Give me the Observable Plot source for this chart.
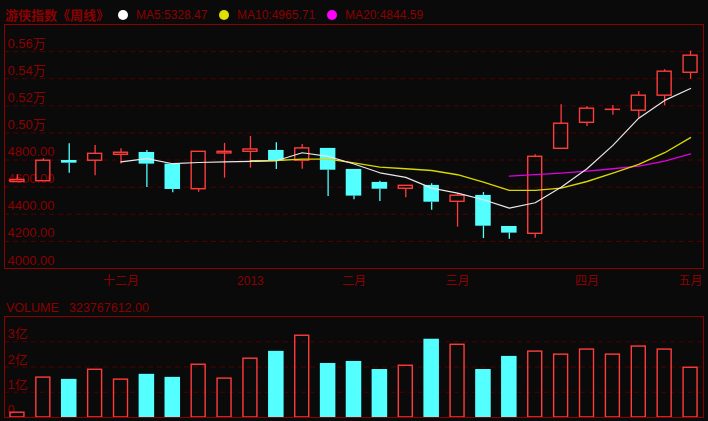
<!DOCTYPE html>
<html><head><meta charset="utf-8">
<script src="https://cdn.jsdelivr.net/npm/d3@7"></script>
<script src="https://cdn.jsdelivr.net/npm/@observablehq/plot@0.6"></script>
<style>
html,body{margin:0;padding:0;background:#0a0a0a;}
#wrap{position:relative;width:708px;height:421px;overflow:hidden;background:#0a0a0a;font-family:"Liberation Sans","Noto Sans CJK SC",sans-serif;}
.a{position:absolute;white-space:nowrap;line-height:16px;}
.dot{position:absolute;width:10px;height:10px;border-radius:50%;}
#main,#vol{position:absolute;left:0;}
#main{top:0;} #vol{top:300px;}
</style>
</head><body>
<div id="wrap">
  <div id="main"></div>
  <div id="vol"></div>
  <div class="a" id="title" style="left:5px;top:7px;font-size:13px;font-weight:bold;color:#8b0000;font-family:'Noto Sans CJK SC',sans-serif;"></div>
  <div id="legend"></div>
  <div class="a" id="volLabel" style="left:6px;top:300px;font-size:12.5px;color:#8b0000;"></div>
  <div class="a" id="volValue" style="left:69px;top:300px;font-size:12.5px;color:#8b0000;"></div>
</div>
<script>
// ---- data ----
const titleText = "游侠指数《周线》";
const maNames = ["MA5", "MA10", "MA20"];
const maLast = ["5328.47", "4965.71", "4844.59"];
const maColors = ["#ffffff", "#e0e000", "#ff00ff"];
const volumeLabel = "VOLUME";
const volumeValue = "323767612.00";

const open  = [4638, 4644, 4797, 4795, 4839, 4856, 4770, 4585, 4849, 4861, 4871, 4795, 4886, 4731, 4635, 4588, 4613, 4492, 4539, 4310, 4256, 4883, 5075, 5170, 5164, 5275, 5444];
const close = [4653, 4795, 4777, 4846, 4854, 4770, 4583, 4861, 4861, 4878, 4792, 4886, 4725, 4534, 4585, 4610, 4489, 4537, 4312, 4261, 4824, 5068, 5179, 5171, 5275, 5452, 5570];
const high  = [4691, 4810, 4920, 4908, 4883, 4871, 4770, 4861, 4923, 4974, 4928, 4915, 4886, 4731, 4644, 4610, 4625, 4551, 4561, 4310, 4839, 5208, 5196, 5203, 5306, 5467, 5604];
const low   = [4638, 4644, 4703, 4684, 4770, 4598, 4559, 4563, 4666, 4740, 4731, 4733, 4531, 4507, 4494, 4522, 4430, 4305, 4221, 4216, 4224, 4883, 5048, 5131, 5109, 5201, 5397];
const volume = [19e6, 158e6, 151e6, 189e6, 150e6, 171e6, 159e6, 209e6, 154e6, 233e6, 262e6, 323767612, 214e6, 222e6, 190e6, 205e6, 310e6, 288e6, 190e6, 242e6, 261e6, 249e6, 269e6, 249e6, 281e6, 269e6, 197e6];

const ma5  = [null, null, null, null, 4787, 4810, 4773, 4782, 4787, 4790, 4795, 4854, 4827, 4771, 4706, 4672, 4593, 4556, 4507, 4445, 4485, 4600, 4736, 4908, 5109, 5240, 5328];
const ma10 = [null, null, null, null, null, null, null, null, null, 4795, 4797, 4807, 4807, 4779, 4748, 4736, 4723, 4692, 4637, 4576, 4576, 4593, 4642, 4703, 4768, 4854, 4966];
const ma20 = [null, null, null, null, null, null, null, null, null, null, null, null, null, null, null, null, null, null, null, 4681, 4692, 4703, 4718, 4736, 4755, 4792, 4845];

const xTickIndex = [4, 9, 13, 17, 22, 26];
const xTickLabels = ["十二月", "2013", "二月", "三月", "四月", "五月"];
const yTicks = [4000, 4200, 4400, 4600, 4800, 5000, 5200, 5400, 5600];
const yTickLabels = ["4000.00", "4200.00", "4400.00", "4600.00", "4800.00", "0.50万", "0.52万", "0.54万", "0.56万"];
const volTicks = [0, 1e8, 2e8, 3e8];
const volTickLabels = ["0", "1亿", "2亿", "3亿"];

// ---- styles ----
const RED = "#ff3c3c", CYAN = "#54ffff", DARK = "#8b0000", GRID = "#520000";
const FONT = "Liberation Sans, Noto Sans CJK SC, sans-serif";

// ---- header ----
document.getElementById("title").textContent = titleText;
const legend = document.getElementById("legend");
const dotLeft = [118, 219, 327], txtLeft = [136, 237, 345];
maNames.forEach((n, k) => {
  const d = document.createElement("div");
  d.className = "dot";
  d.style.left = dotLeft[k] + "px"; d.style.top = "10px"; d.style.background = maColors[k];
  legend.appendChild(d);
  const t = document.createElement("div");
  t.className = "a";
  t.style.left = txtLeft[k] + "px"; t.style.top = "7px"; t.style.fontSize = "12px"; t.style.color = DARK;
  t.textContent = n + ":" + maLast[k];
  legend.appendChild(t);
});
document.getElementById("volLabel").textContent = volumeLabel;
document.getElementById("volValue").textContent = volumeValue;

// ---- tables ----
const N = open.length;
const candles = d3.range(N).map(i => ({i, o: open[i], c: close[i], h: high[i], l: low[i], v: volume[i], up: close[i] >= open[i]}));
const ups = candles.filter(d => d.up), downs = candles.filter(d => !d.up);
const maRows = (arr) => arr.map((v, i) => ({i, v})).filter(d => d.v != null);
const HW = 0.3;

const main = Plot.plot({
  width: 708, height: 300,
  marginTop: 24, marginBottom: 32, marginLeft: 4, marginRight: 5,
  style: {background: "transparent", fontFamily: FONT},
  x: {type: "linear", domain: [-0.5, N - 0.5], axis: null},
  y: {domain: [4000, 5800], axis: null},
  marks: [
    Plot.ruleY(yTicks.slice(1), {stroke: GRID, strokeDasharray: "5,4"}),
    Plot.text(yTicks, {y: d => d, text: (d, i) => yTickLabels[i], frameAnchor: "left", textAnchor: "start", lineAnchor: "bottom", dx: 3, dy: -4, fill: DARK, fontSize: 13}),
    Plot.ruleX(candles, {x: "i", y1: "l", y2: d => Math.min(d.o, d.c), stroke: d => d.up ? RED : CYAN, strokeWidth: 1.3}),
    Plot.ruleX(candles, {x: "i", y1: d => Math.max(d.o, d.c), y2: "h", stroke: d => d.up ? RED : CYAN, strokeWidth: 1.3}),
    Plot.rect(downs, {x1: d => d.i - HW, x2: d => d.i + HW, y1: "o", y2: "c", fill: CYAN}),
    Plot.rect(ups, {x1: d => d.i - HW + 0.03, x2: d => d.i + HW - 0.03, y1: "o", y2: "c", fill: "none", stroke: RED, strokeWidth: 1.4}),
    Plot.line(maRows(ma20), {x: "i", y: "v", stroke: "#e000e0", strokeWidth: 1.3}),
    Plot.line(maRows(ma10), {x: "i", y: "v", stroke: "#d8d800", strokeWidth: 1.4}),
    Plot.line(maRows(ma5), {x: "i", y: "v", stroke: "#e8e8e8", strokeWidth: 1.2}),
    Plot.text(xTickIndex, {x: d => d, text: (d, i) => xTickLabels[i], frameAnchor: "bottom", lineAnchor: "middle", dy: 13, fill: DARK, fontSize: 12}),
    Plot.frame({stroke: DARK})
  ]
});
document.getElementById("main").appendChild(main);

const vol = Plot.plot({
  width: 708, height: 121,
  marginTop: 16, marginBottom: 4, marginLeft: 4, marginRight: 5,
  style: {background: "transparent", fontFamily: FONT},
  x: {type: "linear", domain: [-0.5, N - 0.5], axis: null},
  y: {domain: [0, 4e8], axis: null},
  marks: [
    Plot.ruleY(volTicks.slice(1), {stroke: GRID, strokeDasharray: "5,4"}),
    Plot.text(volTicks, {y: d => d, text: (d, i) => volTickLabels[i], frameAnchor: "left", textAnchor: "start", lineAnchor: "bottom", dx: 3, dy: -3.5, fill: DARK, fontSize: 13}),
    Plot.rect(downs, {x1: d => d.i - HW, x2: d => d.i + HW, y1: 0, y2: "v", fill: CYAN}),
    Plot.rect(ups, {x1: d => d.i - HW + 0.03, x2: d => d.i + HW - 0.03, y1: 0, y2: "v", fill: "none", stroke: RED, strokeWidth: 1.4}),
    Plot.frame({stroke: DARK})
  ]
});
document.getElementById("vol").appendChild(vol);
</script>
</body></html>
